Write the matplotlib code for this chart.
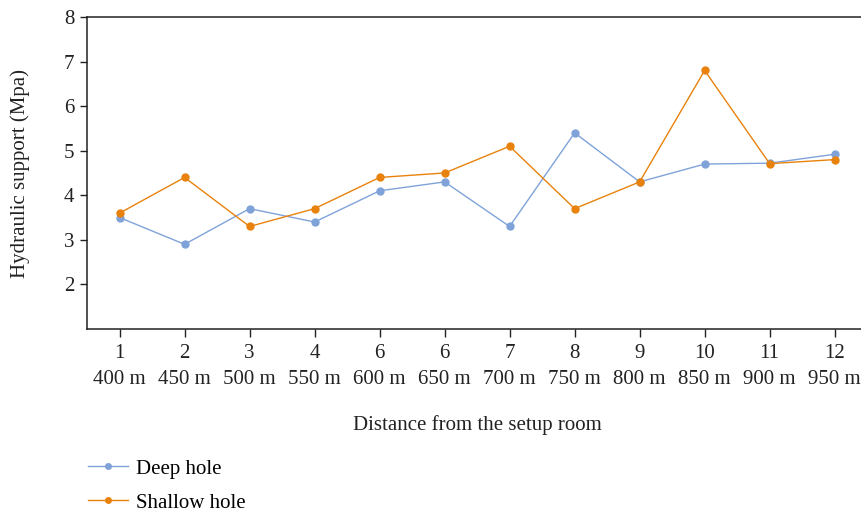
import matplotlib
matplotlib.use("Agg")
import matplotlib.pyplot as plt

plt.rcParams['font.family'] = ['Liberation Serif', 'DejaVu Serif']

# data
points = ['1', '2', '3', '4', '6', '6', '7', '8', '9', '10', '11', '12']
distances = ['400 m', '450 m', '500 m', '550 m', '600 m', '650 m',
             '700 m', '750 m', '800 m', '850 m', '900 m', '950 m']
deep_hole = [3.5, 2.9, 3.7, 3.4, 4.1, 4.3, 3.3, 5.4, 4.3, 4.7, 4.72, 4.92]
shallow_hole = [3.6, 4.4, 3.3, 3.7, 4.4, 4.5, 5.1, 3.7, 4.3, 6.8, 4.71, 4.8]

blue = '#7fa3d9'
orange = '#e8820c'
fs = 15

fig = plt.figure(figsize=(8.62, 5.13), dpi=100)
ax = fig.add_axes([0.101, 0.3587, 0.905, 0.6082])

x = range(len(points))
ax.plot(x, deep_hole, color=blue, lw=1.0, marker='o', ms=5, label='Deep hole')
ax.plot(x, shallow_hole, color=orange, lw=1.0, marker='o', ms=5, label='Shallow hole')

ax.set_xlim(-0.5, 11.5)
ax.set_ylim(1, 8)
ax.set_yticks([2, 3, 4, 5, 6, 7, 8])
ax.set_xticks(list(x))
ax.set_xticklabels([f"{p}\n{d}" for p, d in zip(points, distances)])
for lbl in ax.get_xticklabels():
    lbl.set_linespacing(1.45)

ax.tick_params(axis='x', length=6, width=1, pad=5, labelsize=fs, colors='#222222')
ax.tick_params(axis='y', length=5, width=1, pad=4, labelsize=fs, colors='#222222')
for side in ['left', 'bottom', 'top']:
    ax.spines[side].set_linewidth(1.1)
    ax.spines[side].set_color('#222222')
ax.spines['right'].set_visible(False)

fig.text(20 / 862, 1 - 173 / 513, 'Hydraulic support (Mpa)', rotation=90,
         ha='center', va='center', fontsize=fs, color='#222222')
fig.text(477 / 862, 1 - 425 / 513, 'Distance from the setup room',
         ha='center', va='center', fontsize=fs, color='#222222')

fig.legend(loc='upper left', bbox_to_anchor=(88 / 862, 1 - 459 / 513),
           frameon=False, fontsize=fs, handlelength=1.9, handletextpad=0.4,
           labelspacing=0.7, borderpad=0, borderaxespad=0, markerscale=0.8)

fig.savefig('out.png', dpi=100)
